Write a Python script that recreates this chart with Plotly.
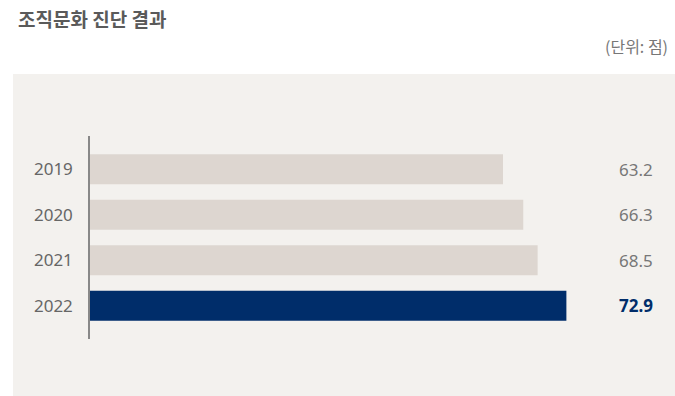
import plotly.graph_objects as go

years = ["2019", "2020", "2021", "2022"]
scores = [63.2, 66.3, 68.5, 72.9]
bar_colors = ["#ddd6d0", "#ddd6d0", "#ddd6d0", "#002d6a"]
label_colors = ["#777777", "#777777", "#777777", "#002d6a"]
label_bold = [False, False, False, True]

W, H = 675, 396
L, R, T, B = 90, 23, 136, 57
pw, ph = W - L - R, H - T - B
x_max = 86

NUM_FONT = "Noto Sans, Open Sans, sans-serif"
KR_FONT = "Noto Sans CJK KR, Noto Sans, sans-serif"

fig = go.Figure(go.Bar(
    x=scores, y=years, orientation="h",
    marker=dict(color=bar_colors, line=dict(width=0)),
    width=0.66, hoverinfo="skip",
))

# value labels aligned at the right edge of the plot area (category index on y)
for i, (v, c, b) in enumerate(zip(scores, label_colors, label_bold)):
    fig.add_annotation(
        xref="paper", yref="y", x=1.0, y=i, xshift=3,
        text=f"<b>{v}</b>" if b else f"{v}",
        xanchor="right", yanchor="middle", showarrow=False,
        font=dict(size=17, color=c, family=NUM_FONT),
    )

# light panel behind the chart
fig.add_shape(
    type="rect", xref="paper", yref="paper", layer="below",
    x0=(13 - L) / pw, x1=(W - L) / pw,
    y0=-B / ph, y1=((H - B) - 74) / ph,
    fillcolor="#f3f1ee", line=dict(width=0),
)

fig.add_annotation(
    xref="paper", yref="paper", x=(16 - L) / pw, y=((H - B) - 19) / ph,
    text="<b>조직문화 진단 결과</b>", showarrow=False,
    xanchor="left", yanchor="middle",
    font=dict(size=19, color="#5a5a5a", family=KR_FONT),
)
fig.add_annotation(
    xref="paper", yref="paper", x=(670 - L) / pw, y=((H - B) - 46) / ph,
    text="(단위: 점)", showarrow=False,
    xanchor="right", yanchor="middle",
    font=dict(size=16, color="#777777", family=KR_FONT),
)

fig.update_layout(
    width=W, height=H,
    margin=dict(l=L, r=R, t=T, b=B),
    paper_bgcolor="white", plot_bgcolor="rgba(0,0,0,0)",
    font=dict(family=KR_FONT),
    showlegend=False,
    xaxis=dict(range=[0, x_max], visible=False, fixedrange=True),
    yaxis=dict(
        type="category",
        range=[3.73, -0.73], showline=True, linecolor="#888888", linewidth=1.5,
        showgrid=False, zeroline=False, ticks="",
        ticklabelstandoff=12,
        tickfont=dict(size=17, color="#666666", family=NUM_FONT),
    ),
)

fig.write_html("out.html")
